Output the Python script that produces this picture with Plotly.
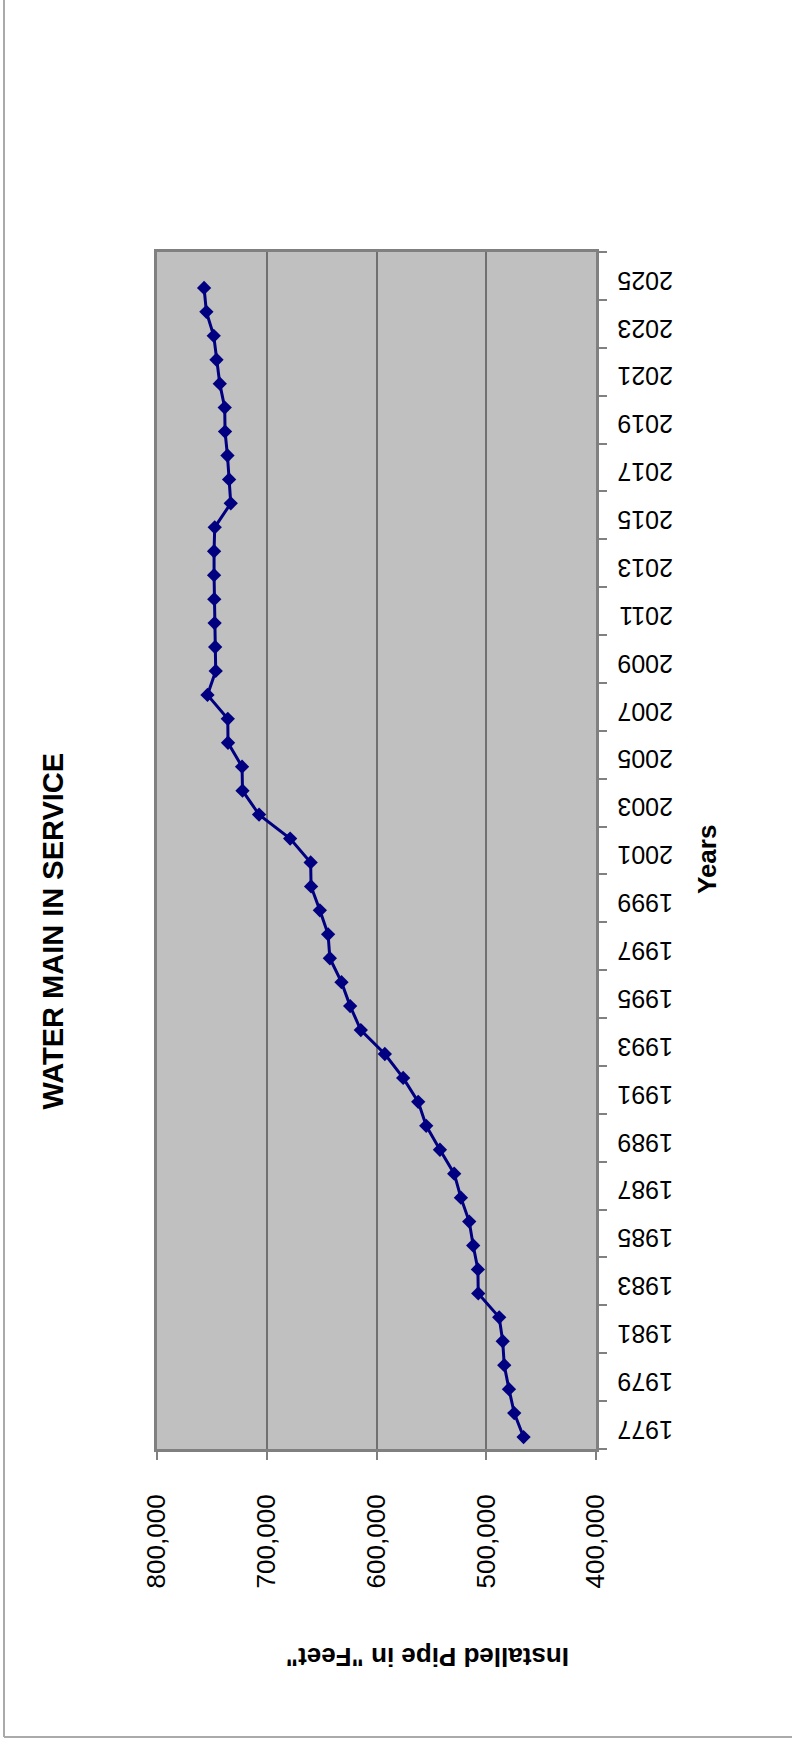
import plotly.graph_objects as go

# ---- data ----
years = list(range(1977, 2026))
installed_feet = [
    466000, 474500, 479300, 483600, 485000, 488200, 507300, 507600, 511900, 515500,
    523100, 529200, 542200, 554700, 562000, 575700, 592400, 614300, 624000, 631900,
    642500, 644100, 651600, 659600, 660000, 678700, 707000, 722100, 722500, 735300,
    735500, 754000, 746500, 747000, 747500, 747800, 748000, 748000, 747400, 732800,
    734300, 735800, 738000, 738300, 742800, 745800, 748300, 755000, 757100,
]
year_labels = [str(y) for y in range(1977, 2026, 2)]
value_ticks = [400000, 500000, 600000, 700000, 800000]
value_tick_text = [f"{v:,}" for v in value_ticks]

title_text = "WATER MAIN IN SERVICE"
value_axis_title = "Installed Pipe in \"Feet\""
year_axis_title = "Years"

# ---- geometry ----
W, H = 792, 1741
ML, MR, MT, MB = 157, 196, 252, 292
PW, PH = W - ML - MR, H - MT - MB


def xp(px):
    return (px - ML) / PW


def yp(py):
    return (H - MB - py) / PH


FONT = "Arial, 'Liberation Sans', sans-serif"
GRAY = "#808080"

fig = go.Figure()
fig.add_trace(go.Scatter(
    x=installed_feet, y=years, mode="lines+markers",
    line=dict(color="#000080", width=3),
    marker=dict(symbol="diamond", size=11, color="#000080"),
    showlegend=False, hoverinfo="skip",
))

yr_range = [1976.5, 2026.5]
boundaries = [1976.5 + 2 * k for k in range(26)]

fig.update_layout(
    width=W, height=H,
    margin=dict(l=ML, r=MR, t=MT, b=MB, autoexpand=False),
    paper_bgcolor="white", plot_bgcolor="#C0C0C0",
    font=dict(family=FONT, color="black"),
    xaxis=dict(
        range=[800000, 400000], tickmode="array", tickvals=value_ticks,
        ticktext=value_tick_text, tickangle=-90, tickfont=dict(size=26),
        ticks="outside", ticklen=8, tickwidth=2, tickcolor=GRAY,
        ticklabelstandoff=24, automargin=False,
        showgrid=True, gridcolor="#707070", gridwidth=1.5,
        showline=True, linecolor=GRAY, linewidth=3, mirror=True,
        zeroline=False,
    ),
    yaxis=dict(
        range=yr_range, tickmode="array", tickvals=boundaries,
        showticklabels=False, ticks="outside", ticklen=8, tickwidth=2,
        tickcolor=GRAY, side="right", automargin=False,
        showgrid=False, showline=True, linecolor=GRAY, linewidth=3,
        mirror=True, zeroline=False,
    ),
    yaxis2=dict(
        range=yr_range, overlaying="y", anchor="x", side="right",
        tickmode="array", tickvals=list(range(1977, 2026, 2)),
        ticktext=year_labels, tickangle=180, tickfont=dict(size=25),
        ticks="", ticklabelstandoff=76, automargin=False,
        showgrid=False, showline=False, zeroline=False,
    ),
)

# invisible trace to activate yaxis2
fig.add_trace(go.Scatter(x=[None], y=[None], yaxis="y2", showlegend=False,
                         hoverinfo="skip"))

fig.add_annotation(text=title_text, xref="paper", yref="paper",
                   x=xp(52.5), y=yp(931), textangle=-90, showarrow=False,
                   xanchor="center", yanchor="middle",
                   font=dict(size=29, family=FONT, color="black", weight="bold"))
fig.add_annotation(text=year_axis_title, xref="paper", yref="paper",
                   x=xp(707), y=yp(860), textangle=-90, showarrow=False,
                   xanchor="center", yanchor="middle",
                   font=dict(size=26, family=FONT, color="black", weight="bold"))
fig.add_annotation(text=value_axis_title, xref="paper", yref="paper",
                   x=xp(428), y=yp(1657), textangle=180, showarrow=False,
                   xanchor="center", yanchor="middle",
                   font=dict(size=26, family=FONT, color="black", weight="bold"))

# page frame (left and bottom edges visible)
fig.add_shape(type="line", xref="paper", yref="paper",
              x0=xp(4), x1=xp(4), y0=yp(0), y1=yp(1737),
              line=dict(color="#AAAAAA", width=2))
fig.add_shape(type="line", xref="paper", yref="paper",
              x0=xp(4), x1=xp(W), y0=yp(1737), y1=yp(1737),
              line=dict(color="#AAAAAA", width=2))

fig.write_html("out.html",
               config={"displayModeBar": False},
               post_script="document.body.style.margin='0';"
                           "document.body.style.overflow='hidden';")
